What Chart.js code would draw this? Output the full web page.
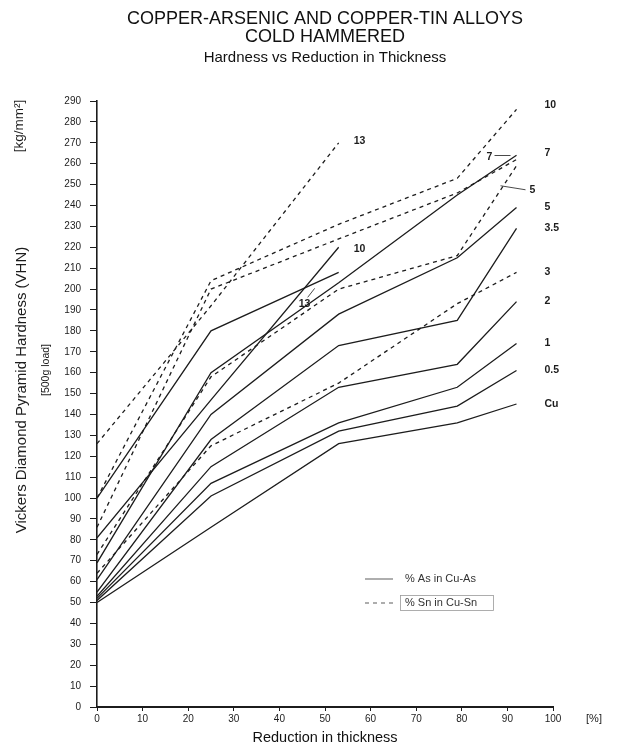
<!DOCTYPE html>
<html>
<head>
<meta charset="utf-8">
<title>Copper-Arsenic and Copper-Tin Alloys</title>
<script src="https://cdn.jsdelivr.net/npm/chart.js@4.4.1/dist/chart.umd.min.js"></script>
<style>
  html, body { margin: 0; padding: 0; background: #fff; }
</style>
</head>
<body>
<canvas id="hardnessChart" width="635" height="747"></canvas>
<script>
// Reduction in thickness [%] at which hardness was measured
const reduction = [0, 25, 53, 79, 92];

// Cu-As alloys (solid lines), hardness in VHN
const asCu = [50, 86, 126, 136, 145];
const as05 = [51, 101, 132, 144, 161];
const as1 = [52, 107, 136, 153, 174];
const as2 = [53, 115, 153, 164, 194];
const as35 = [55, 128, 173, 185, 229];
const as5 = [61, 140, 188, 215, 239];
const as7 = [69, 160, 203, 245, 264];
const as10 = [81, 147, 220];
const as13 = [100, 180, 208];

// Cu-Sn alloys (dashed lines)
const sn3 = [64, 125, 155, 193, 208];
const sn5 = [73, 158, 200, 216, 259];
const sn7 = [86, 200, 224, 246, 262];
const sn10 = [100, 204, 231, 253, 286];
const sn13 = [126, 192, 270];

const yTicks = { min: 0, max: 290, step: 10 };
const xTicks = { min: 0, max: 100, step: 10 };

const FONT = "'Liberation Sans', Arial, sans-serif";
const INK = "#1c1c1c";

function points(values) {
    return values.map((v, i) => ({ x: reduction[i], y: v }));
}

// series: values, dashed?, end label, label offset from last point
const series = [
    { values: asCu, dashed: false, tag: "Cu", dx: 28, dy: 0 },
    { values: as05, dashed: false, tag: "0.5", dx: 28, dy: 0 },
    { values: as1, dashed: false, tag: "1", dx: 28, dy: 0 },
    { values: as2, dashed: false, tag: "2", dx: 28, dy: 0 },
    { values: as35, dashed: false, tag: "3.5", dx: 28, dy: 0 },
    { values: as5, dashed: false, tag: "5", dx: 28, dy: 0 },
    { values: as7, dashed: false, tag: "7", dx: 28, dy: -2 },
    { values: as10, dashed: false, tag: "10", dx: 15, dy: 2 },
    { values: as13, dashed: false, tag: "13", dx: -40, dy: 32, leader: [-31, 25, -24, 16] },
    { values: sn3, dashed: true, tag: "3", dx: 28, dy: 0 },
    { values: sn5, dashed: true, tag: "5", dx: 13, dy: 24, leader: [-16, 20, 9, 24] },
    { values: sn7, dashed: true, tag: "7", dx: -30, dy: -2, leader: [-22, -4, -6, -4] },
    { values: sn10, dashed: true, tag: "10", dx: 28, dy: -4 },
    { values: sn13, dashed: true, tag: "13", dx: 15, dy: -2 }
];

const datasets = series.map(s => ({
    label: (s.dashed ? "% Sn " : "% As ") + s.tag,
    data: points(s.values),
    borderColor: INK,
    borderWidth: 1.3,
    borderDash: s.dashed ? [4, 4] : [],
    pointRadius: 0,
    tension: 0,
    fill: false
}));

// Labels, axis side texts and the small legend box
const decorations = {
    id: "decorations",
    afterDraw(chart) {
        const ctx = chart.ctx;
        ctx.save();
        ctx.fillStyle = INK;
        ctx.strokeStyle = INK;
        ctx.textBaseline = "middle";

        // end-of-line labels
        ctx.font = "bold 10.5px " + FONT;
        ctx.textAlign = "left";
        series.forEach((s, i) => {
            const meta = chart.getDatasetMeta(i);
            const last = meta.data[meta.data.length - 1];
            ctx.fillText(s.tag, last.x + s.dx, last.y + s.dy);
            if (s.leader) {
                ctx.lineWidth = 0.8;
                ctx.beginPath();
                ctx.moveTo(last.x + s.leader[0], last.y + s.leader[1]);
                ctx.lineTo(last.x + s.leader[2], last.y + s.leader[3]);
                ctx.stroke();
            }
        });

        // y axis titles
        ctx.textAlign = "center";
        ctx.font = "15px " + FONT;
        ctx.save();
        ctx.translate(22, 390);
        ctx.rotate(-Math.PI / 2);
        ctx.fillText("Vickers Diamond Pyramid Hardness (VHN)", 0, 0);
        ctx.restore();

        ctx.font = "10.5px " + FONT;
        ctx.save();
        ctx.translate(46, 370);
        ctx.rotate(-Math.PI / 2);
        ctx.fillText("[500g load]", 0, 0);
        ctx.restore();

        ctx.font = "13.5px " + FONT;
        ctx.save();
        ctx.translate(19, 126);
        ctx.rotate(-Math.PI / 2);
        ctx.fillText("[kg/mm\u00B2]", 0, 0);
        ctx.restore();

        // unit after the x axis
        ctx.font = "11px " + FONT;
        ctx.fillText("[%]", 594, 719);

        // legend
        ctx.textAlign = "left";
        ctx.strokeStyle = "#777";
        ctx.lineWidth = 1.2;
        ctx.beginPath();
        ctx.moveTo(365, 579);
        ctx.lineTo(393, 579);
        ctx.stroke();
        ctx.setLineDash([4, 4]);
        ctx.beginPath();
        ctx.moveTo(365, 603);
        ctx.lineTo(393, 603);
        ctx.stroke();
        ctx.setLineDash([]);
        ctx.lineWidth = 0.8;
        ctx.strokeStyle = "#999";
        ctx.strokeRect(400.5, 595.5, 93, 15);
        ctx.fillStyle = "#333";
        ctx.font = "11px " + FONT;
        ctx.fillText("% As in Cu-As", 405, 579);
        ctx.fillText("% Sn in Cu-Sn", 405, 603);
        ctx.restore();
    }
};

const ctxHardness = document.getElementById("hardnessChart").getContext("2d");
new Chart(ctxHardness, {
    type: "line",
    data: { datasets: datasets },
    plugins: [decorations],
    options: {
        responsive: false,
        animation: false,
        devicePixelRatio: 1,
        layout: { padding: { top: 0, right: 82, bottom: 0, left: 0 } },
        plugins: {
            legend: { display: false },
            tooltip: { enabled: false },
            title: {
                display: true,
                fullSize: false,
                text: ["COPPER-ARSENIC AND COPPER-TIN ALLOYS", "COLD HAMMERED"],
                color: "#111",
                font: { family: FONT, size: 18, weight: "normal", lineHeight: "18px" },
                padding: { top: 10, bottom: 1 }
            },
            subtitle: {
                display: true,
                fullSize: false,
                text: "Hardness vs Reduction in Thickness",
                color: "#111",
                font: { family: FONT, size: 15, lineHeight: "18px" },
                padding: { top: 2, bottom: 34 }
            }
        },
        scales: {
            x: {
                type: "linear",
                min: xTicks.min,
                max: xTicks.max,
                afterFit: scale => { scale.height = 40; },
                border: { display: true, color: INK, width: 2 },
                grid: { display: true, drawOnChartArea: false, tickLength: 4, color: INK },
                ticks: { stepSize: xTicks.step, color: INK, padding: 2, font: { family: FONT, size: 10 } },
                title: {
                    display: true,
                    text: "Reduction in thickness",
                    color: "#111",
                    font: { family: FONT, size: 14.5 },
                    padding: { top: 0, bottom: 0 }
                }
            },
            y: {
                type: "linear",
                min: yTicks.min,
                max: yTicks.max,
                afterFit: scale => { scale.width = 97; },
                border: { display: true, color: INK, width: 1.6 },
                grid: { display: true, drawOnChartArea: false, tickLength: 7, color: INK },
                ticks: { stepSize: yTicks.step, color: INK, padding: 9, font: { family: FONT, size: 10 } }
            }
        }
    }
});
</script>
</body>
</html>
